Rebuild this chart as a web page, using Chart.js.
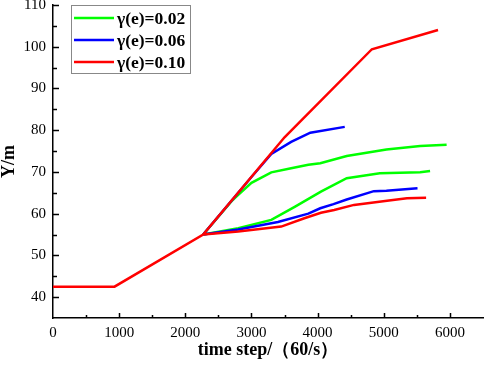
<!DOCTYPE html>
<html>
<head>
<meta charset="utf-8">
<script src="https://cdn.jsdelivr.net/npm/chart.js@4"></script>
<style>
  html, body { margin: 0; padding: 0; background: #fff; }
  #wrap { width: 484px; height: 366px; }
</style>
</head>
<body>
<div id="wrap"><canvas id="yChart" width="484" height="366"></canvas></div>
<script>
// legend labels
var labels = ['γ(e)=0.02', 'γ(e)=0.06', 'γ(e)=0.10'];
var colors = ['#00ff00', '#0000ff', '#ff0000'];

// tick labels
var xTicks = [0, 1000, 2000, 3000, 4000, 5000, 6000];
var yTicks = [40, 50, 60, 70, 80, 90, 100, 110];

// shared start (drawn by the red series, which sits on top)
var xStart = [0, 930, 2270];
var yStart = [42.5, 42.5, 55];

// gamma 0.02
var xGreenUp = [2270, 2700, 2800, 3000, 3300, 3600, 3860, 4040, 4440, 5040, 5550, 5950];
var yGreenUp = [55, 63, 64.5, 67.4, 69.9, 70.9, 71.7, 72.1, 73.8, 75.4, 76.2, 76.5];
var xGreenLow = [2270, 2800, 3300, 3660, 4050, 4440, 4940, 5550, 5700];
var yGreenLow = [55, 56.5, 58.5, 61.7, 65.3, 68.5, 69.7, 69.9, 70.2];

// gamma 0.06
var xBlueUp = [2270, 3000, 3300, 3600, 3890, 4410];
var yBlueUp = [55, 68.8, 74.3, 77.2, 79.4, 80.8];
var xBlueLow = [2270, 2800, 3400, 3860, 4040, 4240, 4440, 4850, 5040, 5510];
var yBlueLow = [55, 56.2, 58, 60, 61.3, 62.3, 63.4, 65.4, 65.5, 66.1];

// gamma 0.10
var xRedUp = [3500, 4820, 5820];
var yRedUp = [78.3, 99.4, 104];
var xRedLow = [2270, 2800, 3450, 3800, 4050, 4250, 4550, 5050, 5350, 5640];
var yRedLow = [55, 55.7, 56.9, 58.9, 60.2, 60.9, 62.1, 63.1, 63.7, 63.8];

function pts(xs, ys) {
  return xs.map(function(x, i){ return {x: x, y: ys[i]}; });
}
// two branches joined by a gap
function branches(a, b) {
  return a.concat([{x: b[0].x, y: null}], b);
}

var greenData = branches(pts(xGreenUp, yGreenUp), pts(xGreenLow, yGreenLow));
var blueData = branches(pts(xBlueUp, yBlueUp), pts(xBlueLow, yBlueLow));
var redData = branches(pts(xStart, yStart).concat(pts(xRedUp, yRedUp)), pts(xRedLow, yRedLow));

var serif = '"Liberation Serif", "Times New Roman", serif';

// inward tick marks on left and bottom axes (major + minor)
var innerTicks = {
  id: 'innerTicks',
  afterDraw: function(chart){
    var ctx = chart.ctx;
    var xs = chart.scales.x, ys = chart.scales.y;
    var area = chart.chartArea;
    ctx.save();
    ctx.strokeStyle = '#000';
    ctx.lineWidth = 1.5;
    ctx.beginPath();
    for (var v = 500; v < 6500; v += 500) {
      var px = Math.round(xs.getPixelForValue(v)) + 0.5;
      var len = v % 1000 === 0 ? 5 : 3;
      ctx.moveTo(px, area.bottom);
      ctx.lineTo(px, area.bottom - len);
    }
    for (var w = 40; w <= 110; w += 5) {
      var py = Math.round(ys.getPixelForValue(w)) + 0.5;
      var l = w % 10 === 0 ? 6 : 4;
      ctx.moveTo(area.left, py);
      ctx.lineTo(area.left + l, py);
    }
    ctx.stroke();
    ctx.restore();
  }
};

// legend box inside the plot
var boxLegend = {
  id: 'boxLegend',
  afterDraw: function(chart){
    var ctx = chart.ctx;
    ctx.save();
    ctx.fillStyle = '#fff';
    ctx.fillRect(72, 5, 118, 68);
    ctx.strokeStyle = '#888';
    ctx.lineWidth = 1;
    ctx.strokeRect(71.5, 5.5, 119, 68);
    ctx.font = 'bold 17.5px ' + serif;
    ctx.textBaseline = 'middle';
    ctx.fillStyle = '#000';
    var rows = [18, 40, 62];
    labels.forEach(function(t, i){
      ctx.strokeStyle = colors[i];
      ctx.lineWidth = 2.5;
      ctx.beginPath();
      ctx.moveTo(74, rows[i]);
      ctx.lineTo(114, rows[i]);
      ctx.stroke();
      ctx.fillText(t, 117, rows[i] + 1);
    });
    ctx.restore();
  }
};

function useTicks(values) {
  return function(scale){
    scale.ticks = values.map(function(v){ return {value: v}; });
  };
}
function plain(v) { return String(v); }

var ctx = document.getElementById('yChart').getContext('2d');
var myChart = new Chart(ctx, {
  type: 'line',
  data: {
    datasets: [
      { label: labels[0], data: greenData, borderColor: colors[0], order: 2 },
      { label: labels[1], data: blueData, borderColor: colors[1], order: 1 },
      { label: labels[2], data: redData, borderColor: colors[2], order: 0 }
    ]
  },
  options: {
    responsive: false,
    animation: false,
    spanGaps: false,
    layout: { padding: { top: 5, right: 1, left: 0, bottom: 0 } },
    elements: {
      line: { borderWidth: 2.5, tension: 0, fill: false },
      point: { radius: 0 }
    },
    plugins: {
      legend: { display: false },
      tooltip: { enabled: false }
    },
    scales: {
      x: {
        type: 'linear',
        min: 0, max: 6500,
        grid: { display: false, drawTicks: false },
        border: { display: true, color: '#000', width: 1.5 },
        ticks: { autoSkip: false, maxRotation: 0, padding: 6,
                 callback: plain,
                 color: '#000', font: { family: serif, size: 15 } },
        afterBuildTicks: useTicks(xTicks),
        title: { display: true, text: 'time step/（60/s）', color: '#000',
                 font: { family: serif, size: 18, weight: 'bold', lineHeight: 1.2 },
                 padding: { top: 0, bottom: 5 } },
        afterFit: function(s){ s.height = 48; s.paddingLeft = 0; s.paddingRight = 0; }
      },
      y: {
        min: 35, max: 110,
        grid: { display: false, drawTicks: false },
        border: { display: true, color: '#000', width: 1.5 },
        ticks: { padding: 7, callback: plain,
                 color: '#000', font: { family: serif, size: 15 } },
        afterBuildTicks: useTicks(yTicks),
        title: { display: true, text: 'Y/m', color: '#000',
                 font: { family: serif, size: 18, weight: 'bold', lineHeight: 1 },
                 padding: { top: 0, bottom: 0 } },
        afterFit: function(s){ s.width = 53; s.paddingTop = 0; s.paddingBottom = 0; }
      }
    }
  },
  plugins: [innerTicks, boxLegend]
});
</script>
</body>
</html>
